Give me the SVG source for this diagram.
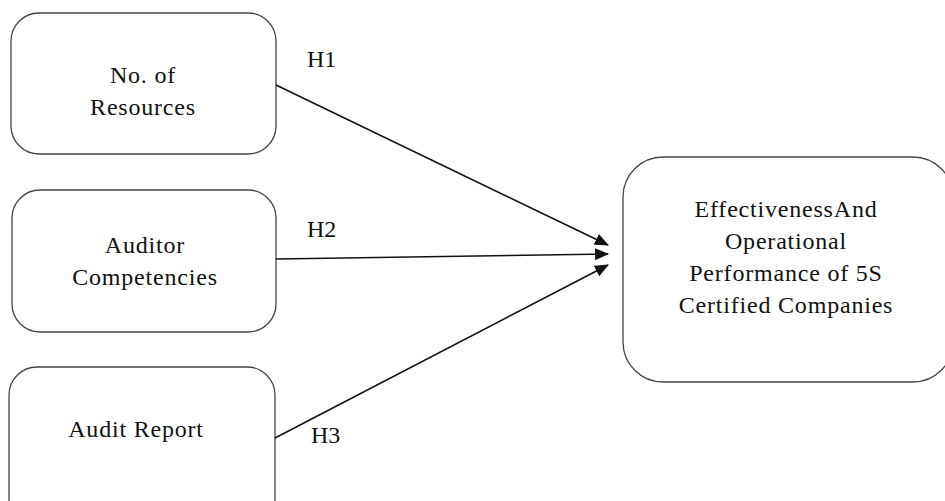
<svg xmlns="http://www.w3.org/2000/svg" width="945" height="501" viewBox="0 0 945 501">
<style>
.box{fill:#fff;stroke:#444;stroke-width:1.3}
.c{stroke:#111;stroke-width:1.6;fill:none;marker-end:url(#ah)}
</style>
<defs>
<marker id="ah" viewBox="0 0 14 12" refX="13" refY="6" markerWidth="14" markerHeight="12" markerUnits="userSpaceOnUse" orient="auto">
<path d="M0,0 L14,6 L0,12 Z" fill="#111"/>
</marker>
</defs>
<rect width="945" height="501" fill="#fff"/>
<g font-family="Liberation Serif, DejaVu Serif, serif" font-size="24" fill="#111" letter-spacing="0.8">
<g id="node-resources" text-anchor="middle">
<rect class="box" x="11" y="13" width="265" height="141" rx="28"/>
<text x="143" y="83">No. of</text>
<text x="143" y="115">Resources</text>
</g>
<g id="node-auditor" text-anchor="middle">
<rect class="box" x="12" y="190" width="264" height="142" rx="28"/>
<text x="145" y="253">Auditor</text>
<text x="145" y="285">Competencies</text>
</g>
<g id="node-report" text-anchor="middle">
<rect class="box" x="9" y="367" width="266" height="160" rx="28"/>
<text x="136" y="437">Audit Report</text>
</g>
<g id="node-effectiveness" text-anchor="middle">
<rect class="box" x="623" y="157" width="330" height="225" rx="40"/>
<text x="786" y="217">EffectivenessAnd</text>
<text x="786" y="249">Operational</text>
<text x="786" y="281">Performance of 5S</text>
<text x="786" y="313">Certified Companies</text>
</g>
<g id="connectors">
<line class="c" x1="276" y1="85" x2="608" y2="245"/>
<line class="c" x1="276" y1="259" x2="608" y2="254"/>
<line class="c" x1="275" y1="438" x2="608" y2="265"/>
<text x="307" y="67" letter-spacing="0">H1</text>
<text x="307" y="237" letter-spacing="0">H2</text>
<text x="311" y="443" letter-spacing="0">H3</text>
</g>
</g>
</svg>
